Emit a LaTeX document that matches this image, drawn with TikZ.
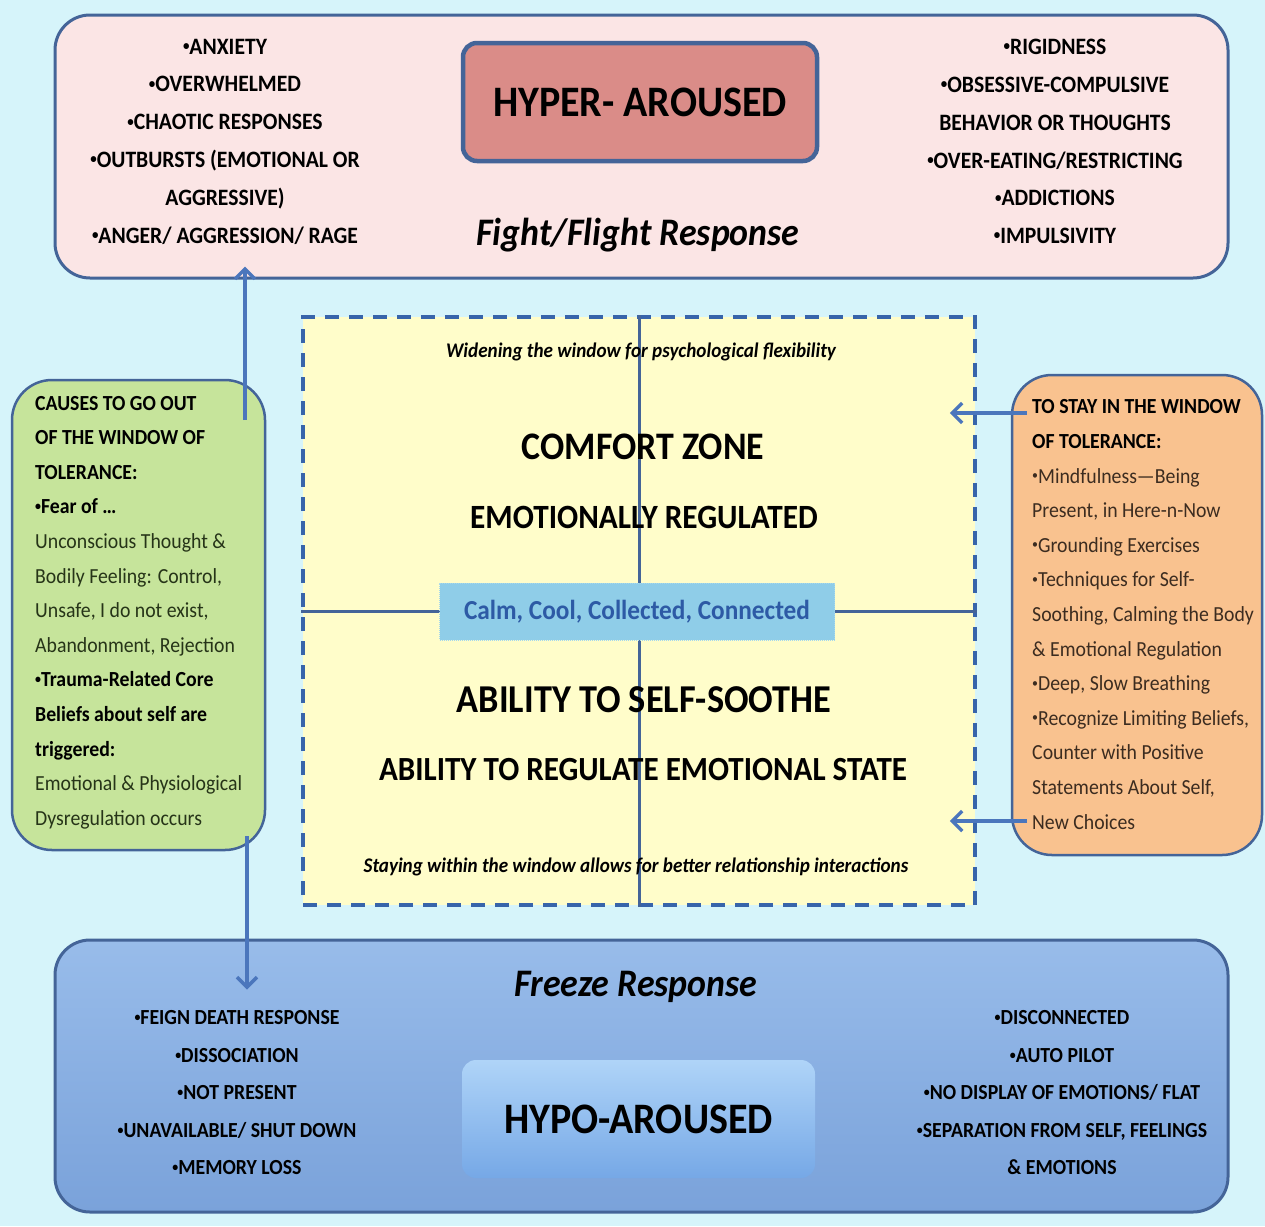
\documentclass[tikz,border=0pt]{standalone}
\usepackage{fontspec}
\usepackage{graphicx}
\setmainfont{Carlito}[FakeStretch=0.92]
\usetikzlibrary{arrows.meta,calc}
\definecolor{bgc}{RGB}{214,244,250}
\definecolor{topfill}{RGB}{251,229,229}
\definecolor{edgec}{RGB}{68,100,152}
\definecolor{hyperfill}{RGB}{218,140,136}
\definecolor{winfill}{RGB}{255,253,202}
\definecolor{winedge}{RGB}{55,100,170}
\definecolor{calmfill}{RGB}{143,205,232}
\definecolor{calmtxt}{RGB}{45,90,165}
\definecolor{greenfill}{RGB}{198,228,155}
\definecolor{orangefill}{RGB}{249,194,143}
\definecolor{gtxt}{RGB}{38,52,24}
\definecolor{otxt}{RGB}{60,44,32}
\definecolor{arrc}{RGB}{75,118,188}
\definecolor{botA}{RGB}{152,188,234}
\definecolor{botB}{RGB}{122,162,218}
\definecolor{hypoA}{RGB}{175,212,248}
\definecolor{hypoB}{RGB}{118,168,230}
\newcommand\fs[2]{\fontsize{#1}{#2}\selectfont}
\newcommand\bul{\raisebox{0.32ex}{\scalebox{0.6}{•}}}
\tikzset{
  bigbox/.style={draw=edgec, line width=3pt, rounded corners=35pt, inner sep=0pt},
  sidebox/.style={draw=edgec, line width=2.5pt, rounded corners=40pt, inner sep=0pt},
  titlebox/.style={draw=edgec, line width=4.5pt, rounded corners=14pt, inner sep=0pt},
  listtxt/.style={align=center, inner sep=0pt, font=\bfseries\fs{23.5}{37.8}},
  blisttxt/.style={align=center, inner sep=0pt, font=\bfseries\fs{21.5}{37.5}},
  sidetxt/.style={align=left, inner sep=0pt, anchor=west, font=\fs{21.5}{34.6}},
  midline/.style={draw=edgec, line width=3pt},
  arr/.style={draw=arrc, line width=3.5pt, -{Straight Barb[length=10pt,width=20pt]}},
}
\begin{document}
\begin{tikzpicture}[x=1pt,y=-1pt]
\path[fill=bgc, use as bounding box] (0,0) rectangle (1265,1226);

% ---------- top (hyper-aroused) ----------
\node[bigbox, fill=topfill, minimum width=1173pt, minimum height=263pt] (top) at (641.5,146.5) {};
\node[titlebox, fill=hyperfill, minimum width=354pt, minimum height=118pt,
      font=\bfseries\fs{43.5}{50}] (hyper) at (640,102) {HYPER- AROUSED};
\node[font=\bfseries\itshape\fs{39}{44}, inner sep=0pt] (fight) at (638,235) {Fight/Flight Response};
\node[listtxt] (tl) at (225,141.5) {\bul ANXIETY\\\bul OVERWHELMED\\\bul CHAOTIC RESPONSES\\\bul OUTBURSTS (EMOTIONAL OR\\AGGRESSIVE)\\\bul ANGER/ AGGRESSION/ RAGE};
\node[listtxt] (tr) at (1055,141.5) {\bul RIGIDNESS\\\bul OBSESSIVE-COMPULSIVE\\BEHAVIOR OR THOUGHTS\\\bul OVER-EATING/RESTRICTING\\\bul ADDICTIONS\\\bul IMPULSIVITY};

% ---------- bottom (hypo-aroused) ----------
\node[bigbox, top color=botA, bottom color=botB, minimum width=1173pt, minimum height=272pt] (bot) at (641.5,1076) {};
\node[titlebox, draw=none, top color=hypoA, bottom color=hypoB, minimum width=353pt, minimum height=118pt,
      font=\bfseries\fs{43.5}{50}] (hypo) at (638.5,1119) {HYPO-AROUSED};
\node[font=\bfseries\itshape\fs{39}{44}, inner sep=0pt] (freeze) at (636,987) {Freeze Response};
\node[blisttxt] (bl) at (237,1093) {\bul FEIGN DEATH RESPONSE\\\bul DISSOCIATION\\\bul NOT PRESENT\\\bul UNAVAILABLE/ SHUT DOWN\\\bul MEMORY LOSS};
\node[blisttxt] (br) at (1062,1093) {\bul DISCONNECTED\\\bul AUTO PILOT\\\bul NO DISPLAY OF EMOTIONS/ FLAT\\\bul SEPARATION FROM SELF, FEELINGS\\\& EMOTIONS};

% ---------- window of tolerance ----------
\node[draw=winedge, fill=winfill, line width=3.5pt, dash pattern=on 14pt off 10pt,
      minimum width=672pt, minimum height=588pt, inner sep=0pt] (win) at (639,611) {};
\draw[midline] (win.north) -- (win.south);
\draw[midline] (win.west) -- (win.east);
\node[fill=calmfill, draw=calmfill!80!white, densely dotted, line width=1pt, minimum width=395pt, minimum height=57pt,
      font=\bfseries\fs{27.5}{30}, text=calmtxt, inner sep=0pt] (calm) at (637,611.5) {Calm, Cool, Collected, Connected};
\node[font=\bfseries\itshape\fs{20.8}{22}, inner sep=0pt] (widen) at (641,352) {Widening the window for psychological flexibility};
\node[font=\bfseries\fs{39}{44}, inner sep=0pt] (comfort) at (643,447) {COMFORT ZONE};
\node[font=\bfseries\fs{34}{38}, inner sep=0pt] (emreg) at (644,517) {EMOTIONALLY REGULATED};
\node[font=\bfseries\fs{39.5}{44}, inner sep=0pt] (soothe) at (644,700) {ABILITY TO SELF-SOOTHE};
\node[font=\bfseries\fs{33.8}{38}, inner sep=0pt] (regstate) at (643,770) {ABILITY TO REGULATE EMOTIONAL STATE};
\node[font=\bfseries\itshape\fs{20.8}{22}, inner sep=0pt] (stay) at (636,867) {Staying within the window allows for better relationship interactions};

% ---------- side boxes ----------
\node[sidebox, fill=greenfill, minimum width=253pt, minimum height=470pt] (green) at (138.5,615) {};
\node[sidetxt] (gtext) at (35,612.5) {\bfseries CAUSES TO GO OUT\\\bfseries OF THE WINDOW OF\\\bfseries TOLERANCE:\\\bfseries \bul Fear of …\\
\textcolor{gtxt}{Unconscious Thought \&}\\\textcolor{gtxt}{Bodily Feeling: Control,}\\\textcolor{gtxt}{Unsafe, I do not exist,}\\\textcolor{gtxt}{Abandonment, Rejection}\\
\bfseries \bul Trauma-Related Core\\\bfseries Beliefs about self are\\\bfseries triggered:\\
\textcolor{gtxt}{Emotional \& Physiological}\\\textcolor{gtxt}{Dysregulation occurs}};

\node[sidebox, fill=orangefill, minimum width=250pt, minimum height=480pt] (orange) at (1137,615) {};
\node[sidetxt] (otext) at (1032,614.5) {\bfseries TO STAY IN THE WINDOW\\\bfseries OF TOLERANCE:\\
\textcolor{otxt}{\bul Mindfulness—Being}\\\textcolor{otxt}{Present, in Here-n-Now}\\\textcolor{otxt}{\bul Grounding Exercises}\\\textcolor{otxt}{\bul Techniques for Self-}\\
\textcolor{otxt}{Soothing, Calming the Body}\\\textcolor{otxt}{\& Emotional Regulation}\\\textcolor{otxt}{\bul Deep, Slow Breathing}\\\textcolor{otxt}{\bul Recognize Limiting Beliefs,}\\
\textcolor{otxt}{Counter with Positive}\\\textcolor{otxt}{Statements About Self,}\\\textcolor{otxt}{New Choices}};

% ---------- connectors ----------
\coordinate (gtop) at (245,420);
\coordinate (gbot) at (247,836);
\coordinate (oin1) at (1027,413);
\coordinate (oin2) at (1027,821);
\draw[arr, shorten >=-13pt] (gtop) -- (gtop |- top.south);
\draw[arr, shorten >=-51pt] (gbot) -- (gbot |- bot.north);
\draw[arr, shorten >=-27pt] (oin1) -- (oin1 -| win.east);
\draw[arr, shorten >=-27pt] (oin2) -- (oin2 -| win.east);
\end{tikzpicture}
\end{document}
